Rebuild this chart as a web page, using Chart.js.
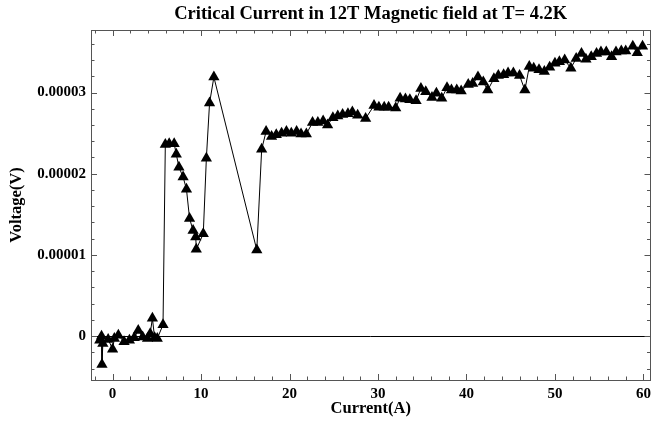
<!DOCTYPE html>
<html><head><meta charset="utf-8">
<script src="https://cdn.jsdelivr.net/npm/chart.js@4"></script>
<style>html,body{margin:0;padding:0;background:#fff}#wrap{width:657px;height:428px}</style>
</head><body><div id="wrap"><canvas id="c" width="657" height="428"></canvas></div>
<script>
const currentA = [-1.45,-1.25,-1.2,-1.1,-0.5,0.0,0.2,0.65,1.3,1.9,2.45,2.9,3.4,3.95,4.25,4.5,4.75,5.05,5.7,
  5.96,6.4,6.96,7.2,7.5,7.97,8.35,8.7,9.1,9.4,9.46,10.25,10.6,10.96,11.45,
  16.3,16.85,17.35,17.97,18.5,19.1,19.65,20.2,20.8,21.3,21.9,22.6,23.2,23.8,24.3,24.9,25.45,26.0,26.6,27.1,27.7,28.6,
  29.55,30.1,30.7,31.2,32.0,32.5,33.1,33.6,34.3,34.85,35.4,36.1,36.6,37.2,37.8,38.3,38.9,39.4,40.2,40.7,41.3,41.9,42.4,
  43.1,43.6,44.2,44.7,45.3,46.0,46.6,47.1,47.6,48.2,48.8,49.4,50.0,50.5,51.1,51.8,52.4,53.0,53.5,54.1,54.7,55.2,55.8,
  56.4,56.9,57.5,58.0,58.8,59.3,59.9];
const voltageV = [-0.05e-5,0.0,-0.35e-5,-0.09e-5,-0.04e-5,-0.16e-5,-0.03e-5,0.01e-5,-0.07e-5,-0.05e-5,-0.02e-5,0.07e-5,-0.01e-5,-0.03e-5,0.03e-5,0.22e-5,-0.02e-5,-0.03e-5,0.14e-5,
  2.36e-5,2.37e-5,2.37e-5,2.24e-5,2.08e-5,1.96e-5,1.81e-5,1.45e-5,1.30e-5,1.22e-5,1.07e-5,1.26e-5,2.19e-5,2.87e-5,3.19e-5,
  1.06e-5,2.30e-5,2.52e-5,2.46e-5,2.48e-5,2.50e-5,2.52e-5,2.50e-5,2.52e-5,2.49e-5,2.49e-5,2.63e-5,2.63e-5,2.65e-5,2.60e-5,2.69e-5,2.71e-5,2.73e-5,2.74e-5,2.76e-5,2.72e-5,2.68e-5,
  2.84e-5,2.82e-5,2.82e-5,2.82e-5,2.81e-5,2.93e-5,2.92e-5,2.91e-5,2.90e-5,3.05e-5,3.01e-5,2.94e-5,2.99e-5,2.93e-5,3.06e-5,3.03e-5,3.03e-5,3.02e-5,3.10e-5,3.11e-5,3.19e-5,3.13e-5,3.03e-5,
  3.17e-5,3.21e-5,3.22e-5,3.24e-5,3.24e-5,3.21e-5,3.03e-5,3.32e-5,3.30e-5,3.28e-5,3.26e-5,3.31e-5,3.36e-5,3.38e-5,3.40e-5,3.30e-5,3.42e-5,3.48e-5,3.41e-5,3.44e-5,3.48e-5,3.50e-5,3.50e-5,
  3.44e-5,3.50e-5,3.51e-5,3.51e-5,3.57e-5,3.49e-5,3.57e-5];
const xTickValues = [0,10,20,30,40,50,60];
const xTickLabels = ['0','10','20','30','40','50','60'];
const yTickValues = [0,0.00001,0.00002,0.00003];
const yTickLabels = ['0','0.00001','0.00002','0.00003'];
const titleText = 'Critical Current in 12T Magnetic field at T= 4.2K';
const xTitle = 'Current(A)';
const yTitle = 'Voltage(V)';

const points = currentA.map((x,i)=>({x:x,y:voltageV[i]}));
const serif = "'Liberation Serif','Times New Roman',serif";

const framePlugin = {
  id:'frame',
  beforeDatasetsDraw(chart){
    const {ctx, chartArea:a, scales:{y}} = chart;
    const y0 = Math.round(y.getPixelForValue(0))+0.5;
    ctx.save();
    ctx.strokeStyle='#000'; ctx.lineWidth=1;
    ctx.beginPath(); ctx.moveTo(a.left,y0); ctx.lineTo(a.right,y0); ctx.stroke();
    ctx.restore();
  },
  afterDatasetsDraw(chart){
    const {ctx, chartArea:a, scales:{x,y}} = chart;
    ctx.save();
    ctx.strokeStyle='#555'; ctx.lineWidth=1;
    ctx.strokeRect(Math.round(a.left)+0.5, Math.round(a.top)+0.5, Math.round(a.right-a.left)-1, Math.round(a.bottom-a.top));
    ctx.beginPath();
    for(let v=-2; v<=61; v+=2){
      const px = Math.round(x.getPixelForValue(v))+0.5;
      if(px<a.left||px>a.right) continue;
      const L = (v%10===0)?6:3.5;
      ctx.moveTo(px,a.bottom); ctx.lineTo(px,a.bottom-L);
      ctx.moveTo(px,a.top); ctx.lineTo(px,a.top+L);
    }
    for(let k=-4; k<=38; k+=2){
      const v = k*1e-6;
      const py = Math.round(y.getPixelForValue(v))+0.5;
      if(py<a.top||py>a.bottom) continue;
      const L = (k%10===0)?6:3.5;
      ctx.moveTo(a.left,py); ctx.lineTo(a.left+L,py);
      ctx.moveTo(a.right,py); ctx.lineTo(a.right-L,py);
    }
    ctx.stroke();
    ctx.restore();
  }
};

new Chart(document.getElementById('c'), {
  type:'scatter',
  data:{datasets:[{
    data:points,
    showLine:true,
    borderColor:'#000',
    borderWidth:1,
    backgroundColor:'#000',
    pointStyle:'triangle',
    pointRadius:6.5,
    pointBorderWidth:0,
    pointBackgroundColor:'#000',
    tension:0
  }]},
  options:{
    responsive:false,
    devicePixelRatio:1,
    animation:false,
    layout:{padding:{left:0,right:1,top:0,bottom:0}},
    plugins:{
      legend:{display:false},
      tooltip:{enabled:false},
      title:{display:true,text:titleText,fullSize:false,color:'#000',
        font:{family:serif,weight:'bold',size:18.5},padding:{top:3,bottom:4.8}}
    },
    scales:{
      x:{type:'linear',min:-2.44,max:60.8,
        grid:{display:false,drawTicks:false},border:{display:false},
        afterBuildTicks(s){ s.ticks = xTickValues.map(v=>({value:v})); },
        afterFit(s){ s.height = 48; },
        ticks:{color:'#000',padding:5,font:{family:serif,weight:'bold',size:15},
          callback:(v)=>{const i=xTickValues.indexOf(v);return i>=0?xTickLabels[i]:'';}},
        title:{display:true,text:xTitle,color:'#000',font:{family:serif,weight:'bold',size:16.5},padding:{top:0,bottom:9}}
      },
      y:{type:'linear',min:-0.54e-5,max:3.77e-5,
        grid:{display:false,drawTicks:false},border:{display:false},
        afterBuildTicks(s){ s.ticks = yTickValues.map(v=>({value:v})); },
        afterFit(s){ s.width = 91; },
        ticks:{color:'#000',padding:5,font:{family:serif,weight:'bold',size:15},
          callback:(v)=>{const i=yTickValues.findIndex(t=>Math.abs(t-v)<1e-12);return i>=0?yTickLabels[i]:'';}},
        title:{display:true,text:yTitle,color:'#000',font:{family:serif,weight:'bold',size:16.5},padding:{top:7,bottom:0}}
      }
    }
  },
  plugins:[framePlugin]
});
</script>
</body></html>
